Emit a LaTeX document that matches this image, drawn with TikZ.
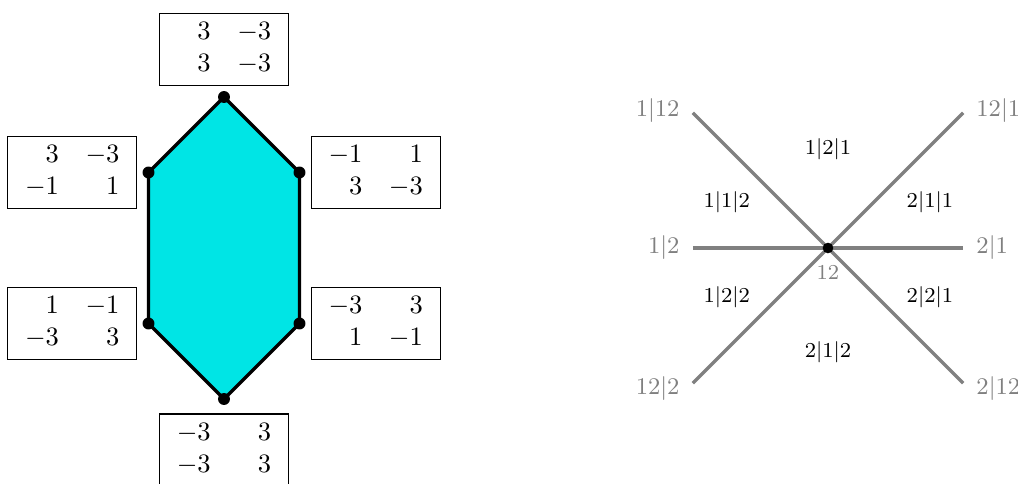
\documentclass[tikz,border=0pt]{standalone}
\usetikzlibrary{positioning}
\definecolor{hexfill}{RGB}{0,229,229}

\begin{document}
\begin{tikzpicture}[
    mat/.style={draw, inner sep=1.5pt},
    vtx/.style={circle, fill=black, inner sep=0pt, minimum size=4.5pt},
    ray/.style={gray, line width=1.25pt},
    glab/.style={gray, font=\small},
    reg/.style={font=\footnotesize},
    node distance=2pt
]
\useasboundingbox (-2.967,-3.113) rectangle (10.517,3.285);

% hexagon
\coordinate (t) at (0,2);
\coordinate (ur) at (1,1);
\coordinate (lr) at (1,-1);
\coordinate (b) at (0,-2);
\coordinate (ll) at (-1,-1);
\coordinate (ul) at (-1,1);
\filldraw[fill=hexfill, line width=1.3pt, line join=round] (t) -- (ur) -- (lr) -- (b) -- (ll) -- (ul) -- cycle;
\foreach \v in {t,ur,lr,b,ll,ul}
    \node[vtx] (d\v) at (\v) {};

\node[mat, above=1.8pt of dt] (mt) {$\begin{array}{rr} \phantom{-}3 & -3\\ 3 & -3 \end{array}$};
\node[mat, left=1.8pt of dul] (mul) {$\begin{array}{rr} 3 & -3\\ -1 & 1 \end{array}$};
\node[mat, right=1.8pt of dur] (mur) {$\begin{array}{rr} -1 & 1\\ 3 & -3 \end{array}$};
\node[mat, left=1.8pt of dll] (mll) {$\begin{array}{rr} 1 & -1\\ -3 & 3 \end{array}$};
\node[mat, right=1.8pt of dlr] (mlr) {$\begin{array}{rr} -3 & 3\\ 1 & -1 \end{array}$};
\node[mat, below=3pt of db] (mb) {$\begin{array}{rr} -3 & \phantom{-}3\\ -3 & 3 \end{array}$};

% fan
\coordinate (w) at (6.21,0);
\coordinate (e) at (9.79,0);
\coordinate (nw) at (6.21,1.79);
\coordinate (ne) at (9.79,1.79);
\coordinate (sw) at (6.21,-1.79);
\coordinate (se) at (9.79,-1.79);
\draw[ray] (w) -- (e);
\draw[ray] (nw) -- (se);
\draw[ray] (sw) -- (ne);
\node[vtx, minimum size=4pt] (c) at (8,0) {};
\node[glab, font=\footnotesize, below=1pt of c] (c12) {$12$};

\node[glab, left=1.5pt of nw, yshift=1pt] (lnw) {$1|12$};
\node[glab, right=1.5pt of ne, yshift=1pt] (lne) {$12|1$};
\node[glab, left=1.5pt of w] (lw) {$1|2$};
\node[glab, right=1.5pt of e] (le) {$2|1$};
\node[glab, left=1.5pt of sw, yshift=-2pt] (lsw) {$12|2$};
\node[glab, right=1.5pt of se, yshift=-2pt] (lse) {$2|12$};

\node[reg] (r121) at (8,1.31) {$1|2|1$};
\node[reg] (r112) at (6.66,0.61) {$1|1|2$};
\node[reg] (r211) at (9.35,0.61) {$2|1|1$};
\node[reg] (r122) at (6.66,-0.65) {$1|2|2$};
\node[reg] (r221) at (9.35,-0.65) {$2|2|1$};
\node[reg] (r212) at (8,-1.38) {$2|1|2$};

\end{tikzpicture}
\end{document}
